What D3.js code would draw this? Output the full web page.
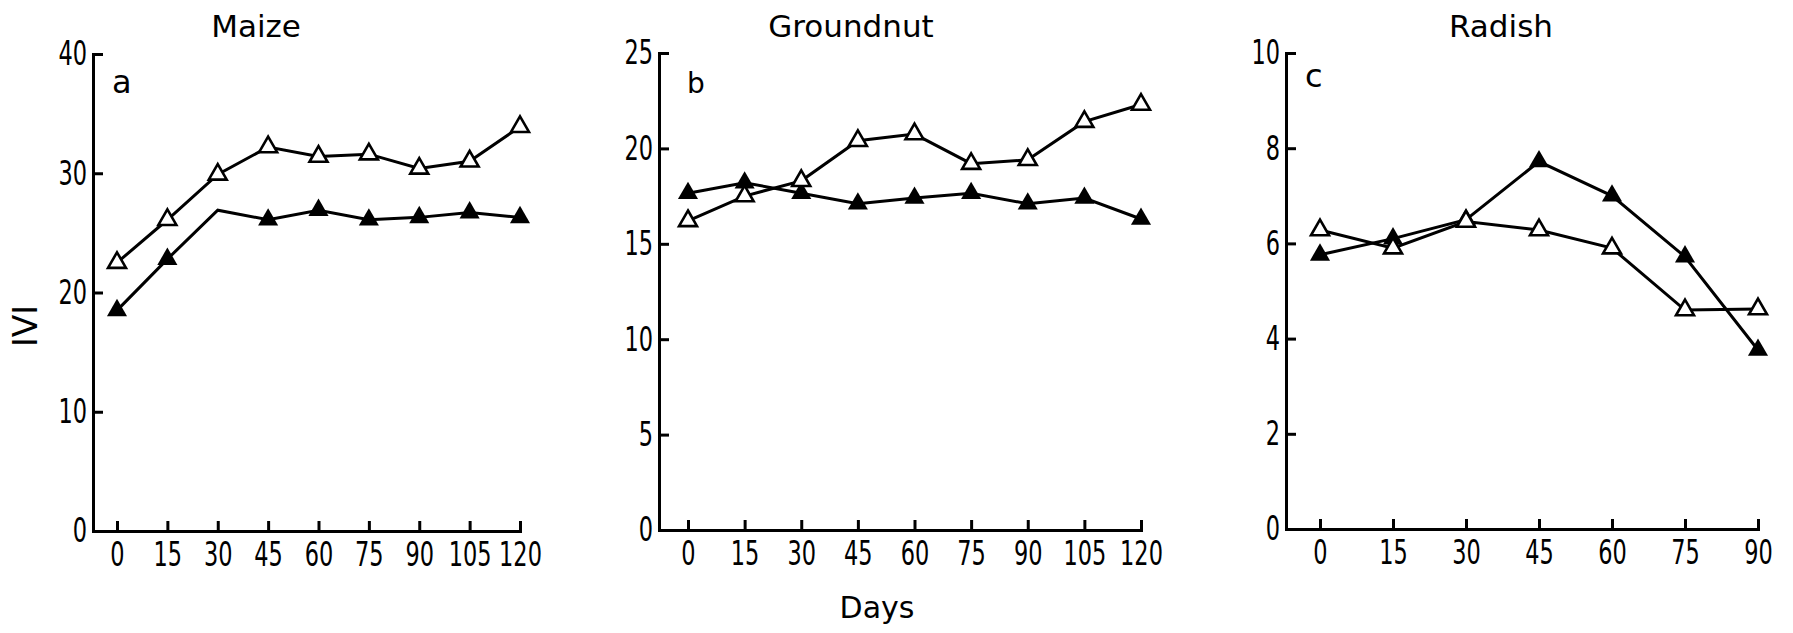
<!DOCTYPE html>
<html>
<head>
<meta charset="utf-8">
<script src="https://cdn.jsdelivr.net/npm/d3@7/dist/d3.min.js"></script>
<style>
  body { margin: 0; background: #fff; }
  .tick text { font-family: "DejaVu Sans", sans-serif; font-size: 34px; fill: #000; }
  .tick line, .domain { stroke: #000; stroke-width: 3; }
  .lbl { font-family: "DejaVu Sans", sans-serif; fill: #000; }
</style>
</head>
<body>
<div class="chart_Container"></div>
<script>
// sampling days
const daysLong = [0, 15, 30, 45, 60, 75, 90, 105, 120]
const daysShort = [0, 15, 30, 45, 60, 75, 90]

// IVI values (open = open triangles, filled = black triangles)
const maizeOpen = [22.5, 26.1, 29.9, 32.2, 31.4, 31.6, 30.4, 31.0, 33.9]
const maizeFilled = [18.5, 22.8, 26.9, 26.1, 26.9, 26.1, 26.3, 26.7, 26.3]
const groundnutOpen = [16.2, 17.5, 18.3, 20.4, 20.75, 19.2, 19.4, 21.4, 22.3]
const groundnutFilled = [17.65, 18.2, 17.65, 17.1, 17.4, 17.65, 17.1, 17.4, 16.3]
const radishOpen = [6.28, 5.9, 6.46, 6.28, 5.9, 4.6, 4.62]
const radishFilled = [5.76, 6.1, 6.5, 7.72, 7.0, 5.72, 3.76]

// y tick labels
const maizeTicks = [0, 10, 20, 30, 40]
const groundnutTicks = [0, 5, 10, 15, 20, 25]
const radishTicks = [0, 2, 4, 6, 8, 10]

// the maize filled line bends at day 30 but has no marker there
const maizeFilledNoMarker = [30]

// layout of each panel (pixels)
const panels = [
  {title: 'Maize', letter: 'a', days: daysLong, open: maizeOpen, filled: maizeFilled, yTicks: maizeTicks,
   noMarker: maizeFilledNoMarker, axisX: 93, x0: 117, xEnd: 520, yBase: 531, yTop: 54,
   titleX: 256, letterX: 112, letterY: 93, letterSize: 32},
  {title: 'Groundnut', letter: 'b', days: daysLong, open: groundnutOpen, filled: groundnutFilled, yTicks: groundnutTicks,
   noMarker: [], axisX: 659, x0: 688, xEnd: 1141, yBase: 530, yTop: 53,
   titleX: 851, letterX: 687, letterY: 93, letterSize: 28},
  {title: 'Radish', letter: 'c', days: daysShort, open: radishOpen, filled: radishFilled, yTicks: radishTicks,
   noMarker: [], axisX: 1286, x0: 1320, xEnd: 1758, yBase: 529, yTop: 53,
   titleX: 1501, letterX: 1305, letterY: 87, letterSize: 32}
]

const width = 1793
const height = 633
// tick digits in the figure are very narrow, squeeze them sideways
const squeeze = 0.66

const svg = d3.select('.chart_Container')
  .append('svg')
  .attr('width', width)
  .attr('height', height)

panels.forEach(p => {
  const maxDay = p.days[p.days.length - 1]
  // start the x domain a bit below 0 so the axis line reaches the y axis
  const lo = -(p.x0 - p.axisX) * maxDay / (p.xEnd - p.x0)
  const x = d3.scaleLinear().domain([lo, maxDay]).range([p.axisX, p.xEnd])
  const y = d3.scaleLinear().domain([0, d3.max(p.yTicks)]).range([p.yBase, p.yTop])

  const g = svg.append('g')

  g.append('g')
    .attr('class', 'x-axis')
    .attr('transform', `translate(0,${p.yBase})`)
    .call(d3.axisBottom(x).tickValues(p.days).tickSizeInner(-10).tickSizeOuter(0).tickPadding(11))
    .selectAll('.tick text')
    .attr('transform', `scale(${squeeze},1)`)

  g.append('g')
    .attr('class', 'y-axis')
    .attr('transform', `translate(${p.axisX},0)`)
    .call(d3.axisLeft(y).tickValues(p.yTicks).tickSizeInner(-10).tickSizeOuter(0).tickPadding(6))
    .selectAll('.tick text')
    .attr('x', -6 / squeeze)
    .attr('transform', `scale(${squeeze},1)`)

  g.selectAll('.domain').attr('stroke-linecap', 'square')

  const openData = p.days.map((d, i) => ({day: d, v: p.open[i]}))
  const filledData = p.days.map((d, i) => ({day: d, v: p.filled[i]}))

  const line = d3.line().x(d => x(d.day)).y(d => y(d.v))

  g.append('path').datum(filledData)
    .attr('d', line).attr('fill', 'none').attr('stroke', '#000').attr('stroke-width', 3)
  g.append('path').datum(openData)
    .attr('d', line).attr('fill', 'none').attr('stroke', '#000').attr('stroke-width', 3)

  g.selectAll('.filled')
    .data(filledData.filter(d => !p.noMarker.includes(d.day)))
    .enter()
    .append('path')
    .attr('class', 'filled')
    .attr('d', d3.symbol(d3.symbolTriangle, 175))
    .attr('transform', d => `translate(${x(d.day)},${y(d.v)})`)
    .attr('fill', '#000')

  g.selectAll('.open')
    .data(openData)
    .enter()
    .append('path')
    .attr('class', 'open')
    .attr('d', d3.symbol(d3.symbolTriangle, 140))
    .attr('transform', d => `translate(${x(d.day)},${y(d.v)})`)
    .attr('fill', '#fff')
    .attr('stroke', '#000')
    .attr('stroke-width', 2.6)

  // panel title and letter
  g.append('text').attr('class', 'lbl')
    .attr('x', p.titleX).attr('y', 37)
    .attr('text-anchor', 'middle')
    .style('font-size', '31px')
    .text(p.title)

  g.append('text').attr('class', 'lbl')
    .attr('x', p.letterX).attr('y', p.letterY)
    .style('font-size', p.letterSize + 'px')
    .text(p.letter)
})

// shared axis titles
svg.append('text').attr('class', 'lbl')
  .attr('x', 877).attr('y', 618)
  .attr('text-anchor', 'middle')
  .style('font-size', '30px')
  .text('Days')

svg.append('text').attr('class', 'lbl')
  .attr('transform', 'translate(37,326) rotate(-90)')
  .attr('text-anchor', 'middle')
  .style('font-size', '33px')
  .text('IVI')
</script>
</body>
</html>
